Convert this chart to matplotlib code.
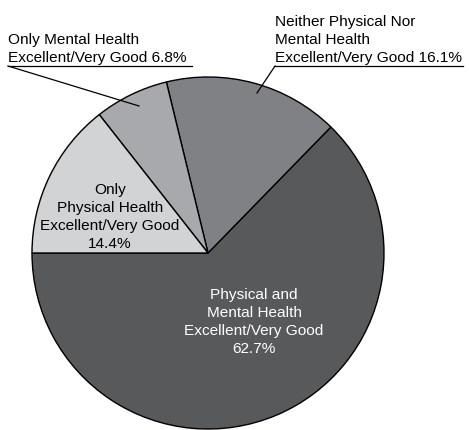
import matplotlib.pyplot as plt

plt.rcParams["font.family"] = ["Liberation Sans", "DejaVu Sans"]

# slices in drawing order (counter-clockwise from the left)
labels = [
    "Physical and\nMental Health\nExcellent/Very Good",
    "Neither Physical Nor\nMental Health\nExcellent/Very Good",
    "Only Mental Health\nExcellent/Very Good",
    "Only\nPhysical Health\nExcellent/Very Good",
]
shares = [62.7, 16.1, 6.8, 14.4]
colors = ["#58595b", "#808184", "#a7a9ac", "#d1d3d4"]

W, H = 469, 430
fig = plt.figure(figsize=(W / 100, H / 100), dpi=100)
ax = fig.add_axes([0, 0, 1, 1])

cx, cy, r = 208, H - 253, 176
ax.pie(shares, colors=colors, startangle=180, counterclock=True,
       center=(cx, cy), radius=r, frame=True,
       wedgeprops=dict(edgecolor="black", linewidth=1.0))
ax.set_xlim(0, W)
ax.set_ylim(0, H)
ax.set_aspect("equal")
ax.axis("off")

fs = 11.1
ls = 1.36

# inside labels
ax.text(254, H - 322, f"{labels[0]}\n{shares[0]}%", color="white",
        ha="center", va="center", fontsize=fs, linespacing=ls)
ax.text(110, H - 217, f"{labels[3]}\n{shares[3]}%", color="black",
        ha="center", va="center", fontsize=fs, linespacing=ls)

# outside labels with underline and leader
mental_txt = labels[2].replace("Good", f"Good {shares[2]}%")
ax.text(8, H - 65, mental_txt, ha="left", va="bottom", fontsize=fs, linespacing=ls)
ax.plot([8, 192], [H - 66, H - 66], color="black", lw=0.9)
ax.plot([8, 139], [H - 66, H - 106], color="black", lw=0.9)

neither_txt = labels[1].replace("Good", f"Good {shares[1]}%")
ax.text(275, H - 65, neither_txt, ha="left", va="bottom", fontsize=fs, linespacing=ls)
ax.plot([275, 463], [H - 66, H - 66], color="black", lw=0.9)
ax.plot([275, 257], [H - 66, H - 93], color="black", lw=0.9)

fig.savefig("out.png", dpi=100)
